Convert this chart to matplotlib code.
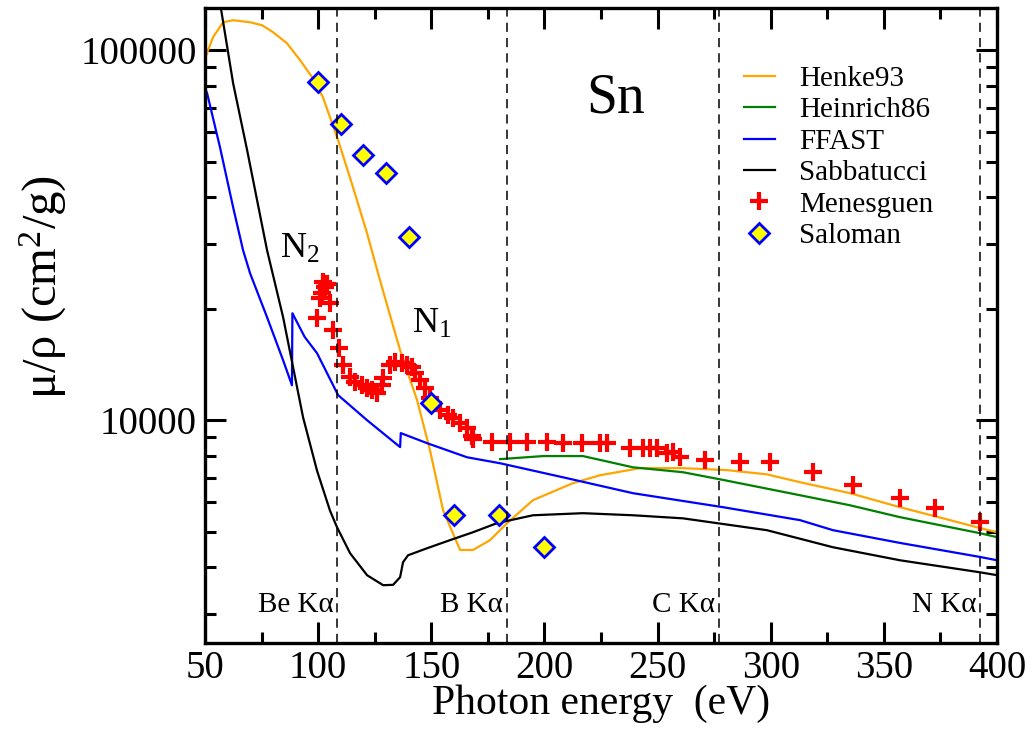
import numpy as np
import matplotlib
matplotlib.use('Agg')
import matplotlib.pyplot as plt
from matplotlib.ticker import MultipleLocator, FixedLocator, FixedFormatter, LogLocator, NullFormatter

plt.rcParams['font.family'] = ['Liberation Serif', 'DejaVu Serif']
plt.rcParams['mathtext.fontset'] = 'custom'
plt.rcParams['mathtext.rm'] = 'Liberation Serif'
plt.rcParams['mathtext.it'] = 'Liberation Serif:italic'

# Henke93
henke_e = [50, 53.5, 58, 62.4, 69.9, 75.2, 80.1, 86.2, 92, 97.3, 102.1, 108.8, 115.4, 121.6,
           127.3, 136.2, 143.7, 149.4, 155.2, 162.7, 168.4, 175.9, 183.5, 194.9, 212.6, 224.5,
           242.2, 261.2, 280.7, 298.3, 312.9, 335, 357.1, 379.2, 392.5, 400]
henke_mu = [95100, 108400, 119000, 120500, 119000, 116800, 111800, 104400, 93970, 84540, 74600,
            57100, 42600, 32000, 23900, 15450, 11330, 8300, 5710, 4460, 4460, 4740, 5270, 6080,
            6760, 7100, 7420, 7420, 7330, 7140, 6800, 6350, 5820, 5370, 5110, 4980]

# Heinrich86
heinrich_e = [180.4, 199.4, 217, 239.1, 261.2, 279.8, 312.9, 335, 357.1, 392.5, 400]
heinrich_mu = [7850, 8000, 8000, 7460, 7235, 6880, 6270, 5890, 5470, 4950, 4830]

# FFAST
ffast_e = [50, 50.9, 56.6, 62.4, 66.8, 69.9, 77.4, 84.5, 88.4, 88.6, 94, 99.5, 108.8, 121.6, 136.2,
           136.5, 148.1, 165.8, 180.4, 210, 239.1, 278.9, 312.9, 327.5, 357.1, 392.5, 400]
ffast_mu = [78900, 76520, 54670, 37640, 28800, 24950, 18980, 14520, 12430, 19460, 16800, 15170,
            11690, 10000, 8460, 9230, 8670, 7940, 7650, 6970, 6350, 5820, 5370, 5044, 4660, 4270,
            4183]

# Sabbatucci
sabb_e = [55.7, 62.4, 68.6, 77.4, 84.5, 88.9, 93.3, 99.5, 105.2, 108.3, 114.1, 121.6, 128.7, 133.1,
          136.2, 137.5, 139.7, 148.1, 158.3, 168.4, 179, 194.9, 217, 239.1, 261.2, 279.8, 298.3,
          327.5, 357.1, 392.5, 400]
sabb_mu = [145300, 81430, 53660, 28800, 18980, 13910, 10190, 7300, 5700, 5140, 4370, 3812, 3582,
           3590, 3765, 4133, 4315, 4508, 4742, 4980, 5270, 5535, 5607, 5535, 5430, 5233, 5044, 4536,
           4183, 3881, 3812]

# Menesguen
men_e = [99.5, 100.8, 101.7, 102.1, 103.0, 103.9, 105.2, 106.6, 109.2, 111.0, 114.1, 116.3, 119.4,
         121.6, 123.8, 126.0, 128.2, 128.7, 131.8, 134.0, 137.1, 139.3, 141.5, 142.8, 145.0, 147.2,
         149.4, 153.8, 157.4, 159.6, 162.7, 165.8, 168.0, 168.4, 176.8, 184.8, 192.3, 201.1, 208.2,
         216.6, 224.5, 227.6, 237.8, 243.6, 246.6, 249.7, 254.2, 256.8, 259.9, 271, 286.4, 299.7,
         318.7, 336.4, 357.1, 372.6, 392.5]
men_mu = [18870, 21360, 22040, 23600, 22880, 23300, 20720, 17510, 15650, 14080, 13070, 12670, 12430,
          12200, 12050, 11830, 12430, 12990, 14080, 14350, 14260, 14080, 13910, 13400, 12820, 12200,
          11470, 10640, 10310, 10120, 9815, 9510, 9060, 8890, 8720, 8720, 8720, 8720, 8670,
          8670, 8670, 8670, 8400, 8400, 8400, 8400, 8140, 8190, 7940, 7800, 7700, 7700,
          7235, 6670, 6155, 5783, 5300]

# Saloman
sal_e = [100, 110, 120, 130, 140, 150, 160, 180, 200]
sal_mu = [81940, 63100, 52000, 46500, 31250, 11120, 5530, 5530, 4540]

# emission lines
line_e = [108.5, 183.3, 277.0, 392.4]
line_names = ['Be K\u03b1', 'B K\u03b1', 'C K\u03b1', 'N K\u03b1']

fig = plt.figure(figsize=(10.33, 7.31), dpi=100)
ax = fig.add_axes([0.1985, 0.1204, 0.7667, 0.8686])

ax.plot(henke_e, henke_mu, color='#ffa500', lw=1.6, label='Henke93')
ax.plot(heinrich_e, heinrich_mu, color='#008000', lw=1.6, label='Heinrich86')
ax.plot(ffast_e, ffast_mu, color='#0000ff', lw=1.6, label='FFAST')
ax.plot(sabb_e, sabb_mu, color='black', lw=1.6, label='Sabbatucci')
ax.plot(men_e, men_mu, ls='none', marker='+', ms=13, mew=3, color='#ff0000', label='Menesguen')
ax.plot(sal_e, sal_mu, ls='none', marker='D', ms=10.5, mew=2, mfc='#ffff00', mec='#0000ff',
        label='Saloman')

for e, name in zip(line_e, line_names):
    ax.axvline(e, color='black', lw=1.1, ls=(0, (6, 4)))
    ax.text(e - 1.5, 3027, name, ha='right', va='baseline', fontsize=21)

ax.text(231.6, 68000, 'Sn', ha='center', va='baseline', fontsize=40)
ax.text(83.1, 27400, 'N$_2$', ha='left', va='baseline', fontsize=26)
ax.text(141.5, 17180, 'N$_1$', ha='left', va='baseline', fontsize=26)

ax.set_yscale('log')
ax.set_xlim(50, 400)
ax.set_ylim(2500, 130000)

ax.xaxis.set_major_locator(MultipleLocator(50))
ax.xaxis.set_minor_locator(MultipleLocator(25))
ax.yaxis.set_major_locator(FixedLocator([10000, 100000]))
ax.yaxis.set_major_formatter(FixedFormatter(['10000', '100000']))
ax.yaxis.set_minor_locator(LogLocator(base=10, subs=np.arange(2, 10)))
ax.yaxis.set_minor_formatter(NullFormatter())

ax.tick_params(which='both', direction='in', top=True, right=True, width=2.2, labelsize=28)
ax.tick_params(which='major', length=15)
ax.tick_params(which='minor', length=8)
ax.tick_params(axis='x', pad=5)
ax.tick_params(axis='y', pad=6)
for s in ax.spines.values():
    s.set_linewidth(2.4)

ax.set_xlabel('Photon energy  (eV)', fontsize=30, labelpad=-2)
ax.set_ylabel('\u03bc/\u03c1 (cm$^2$/g)', fontsize=35)
ax.yaxis.set_label_coords(-0.172, 0.561)

ax.legend(loc='upper left', bbox_to_anchor=(0.651, 0.946), frameon=False, fontsize=21,
          handlelength=1.05, handletextpad=0.85, labelspacing=0.17, borderpad=0.3)

fig.savefig('out.png', dpi=100)
